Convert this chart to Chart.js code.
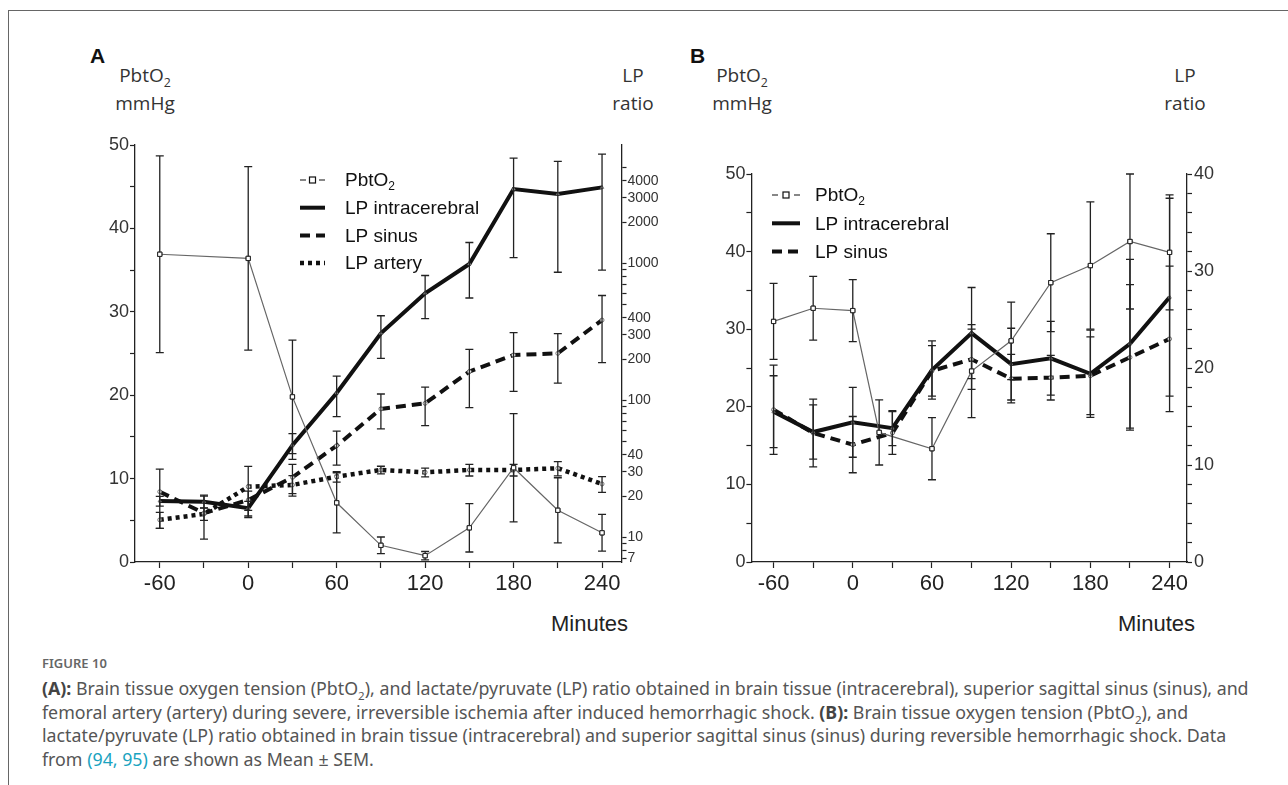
<!DOCTYPE html>
<html>
<head>
<meta charset="utf-8">
<script src="https://cdn.jsdelivr.net/npm/chart.js@4.4.1/dist/chart.umd.min.js"></script>
<style>
   body { margin: 0; width: 1288px; height: 785px; background: #fff; overflow: hidden; position: relative; font-family: "Liberation Sans", Arial, sans-serif; }
   .frame { position: absolute; left: 8px; top: 10px; width: 1290px; height: 790px; border-top: 1px solid #666; border-left: 1px solid #666; }
   .abs { position: absolute; }
   .panel { font: bold 21px "Liberation Sans", Arial, sans-serif; color: #111; }
   .ttl { width: 100px; text-align: center; font: 19px "Open Sans", "Noto Sans", sans-serif; line-height: 28px; color: #333; }
   .ttl sub { font-size: 0.65em; line-height: 0; }
   .minutes { font: 22px "Liberation Sans", Arial, sans-serif; color: #222; }
   .fig { left: 42px; top: 654px; font: 600 13px "Noto Sans", sans-serif; color: #666; }
   .cap { left: 42px; top: 677px; font: 17.8px "Noto Sans", sans-serif; line-height: 23.5px; color: #555; white-space: nowrap; }
   .cap b { color: #444; }
   .cap sub { font-size: 0.65em; line-height: 0; }
   .cap .ref { color: #1aa3c0; }
   canvas { position: absolute; }
</style>
</head>
<body>
<div class="frame"></div>

<div class="abs panel" style="left:90px; top:44px;">A</div>
<div class="abs ttl" style="left:95px; top:61px;">PbtO<sub>2</sub><br>mmHg</div>
<div class="abs ttl" style="left:583px; top:61px;">LP<br>ratio</div>
<canvas id="chartA" width="590" height="470" style="left:80px; top:130px;"></canvas>
<div class="abs minutes" style="left:551px; top:611px;">Minutes</div>

<div class="abs panel" style="left:690px; top:44px;">B</div>
<div class="abs ttl" style="left:692px; top:61px;">PbtO<sub>2</sub><br>mmHg</div>
<div class="abs ttl" style="left:1135px; top:61px;">LP<br>ratio</div>
<canvas id="chartB" width="590" height="470" style="left:680px; top:130px;"></canvas>
<div class="abs minutes" style="left:1118px; top:611px;">Minutes</div>

<div class="abs fig">FIGURE 10</div>
<div class="abs cap">
<b>(A):</b> Brain tissue oxygen tension (PbtO<sub>2</sub>), and lactate/pyruvate (LP) ratio obtained in brain tissue (intracerebral), superior sagittal sinus (sinus), and<br>
femoral artery (artery) during severe, irreversible ischemia after induced hemorrhagic shock. <b>(B):</b> Brain tissue oxygen tension (PbtO<sub>2</sub>), and<br>
lactate/pyruvate (LP) ratio obtained in brain tissue (intracerebral) and superior sagittal sinus (sinus) during reversible hemorrhagic shock. Data<br>
from <span class="ref">(94, 95)</span> are shown as Mean ± SEM.
</div>

<script>
// ---- panel A: irreversible ischemia ----
const pbto2TimesA = [-60, 0, 30, 60, 90, 120, 150, 180, 210, 240];
const pbto2A      = [36.9, 36.4, 19.8, 7.1, 2.0, 0.76, 4.1, 11.3, 6.2, 3.5];
const pbto2SemA   = [11.8, 11.0, 6.8, 3.6, 1.0, 0.5, 2.9, 6.5, 3.9, 2.2];

const lpTimesA      = [-60, -30, 0, 30, 60, 90, 120, 150, 180, 210, 240];
const lpIntraA      = [18.4, 18.2, 16.3, 47, 113, 308, 604, 988, 3480, 3200, 3580];
const lpIntraSemA   = [1.5, 1.8, 2.0, 10, 37, 106, 210, 430, 2380, 2340, 2690];
const lpSinusA      = [21.5, 15.0, 18.7, 27.4, 46.6, 86.5, 95, 162, 214, 220, 385];
const lpSinusSemA   = [9.9, 5.3, 3.0, 6.6, 13, 24.6, 29.7, 73.5, 98, 86.5, 197];
const lpArteryA     = [13.4, 14.8, 23.4, 24.1, 27.7, 31.0, 29.8, 31.0, 31.0, 31.9, 24.5];
const lpArterySemA  = [1.8, 1.5, 9.5, 4.1, 2.4, 2.0, 2.2, 3.0, 3.0, 3.8, 3.2];

// ---- panel B: reversible shock ----
const pbto2TimesB = [-60, -30, 0, 20, 60, 90, 120, 150, 180, 210, 240];
const pbto2B      = [31.0, 32.7, 32.4, 16.7, 14.6, 24.6, 28.5, 36.0, 38.2, 41.3, 39.9];
const pbto2SemB   = [4.9, 4.1, 4.0, 4.2, 4.0, 6.0, 5.0, 6.3, 8.2, 8.7, 7.4];

const lpTimesB     = [-60, -30, 0, 30, 60, 90, 120, 150, 180, 210, 240];
const lpIntraB     = [15.5, 13.4, 14.4, 13.8, 19.8, 23.6, 20.4, 21.0, 19.4, 22.5, 27.3];
const lpIntraSemB  = [3.7, 2.8, 3.6, 1.8, 3.0, 4.7, 3.7, 3.8, 4.5, 8.7, 10.2];
const lpSinusB     = [15.7, 13.3, 12.1, 13.3, 19.7, 20.9, 18.9, 19.0, 19.2, 21.1, 23.0];
const lpSinusSemB  = [4.6, 3.5, 2.9, 2.2, 2.6, 3.1, 2.5, 2.3, 4.0, 7.5, 7.5];

// ---- axes ----
const minuteTicks  = [-60, -30, 0, 30, 60, 90, 120, 150, 180, 210, 240];
const minuteLabels = [-60, 0, 60, 120, 180, 240];
const pbto2Ticks   = [0, 5, 10, 15, 20, 25, 30, 35, 40, 45, 50];
const pbto2Labels  = [0, 10, 20, 30, 40, 50];
const lpLogTicks   = [7, 8, 9, 10, 20, 30, 40, 50, 60, 70, 80, 90, 100, 200, 300, 400, 500, 600, 700, 800, 900, 1000, 2000, 3000, 4000, 5000];
const lpLogLabels  = [7, 10, 20, 30, 40, 100, 200, 300, 400, 1000, 2000, 3000, 4000];
const lpLinTicks   = [0, 2, 4, 6, 8, 10, 12, 14, 16, 18, 20, 22, 24, 26, 28, 30, 32, 34, 36, 38, 40];
const lpLinLabels  = [0, 10, 20, 30, 40];

const pts = (xs, ys) => xs.map((x, i) => ({x: x, y: ys[i]}));
const ink = '#222';
const numFont = size => ({family: '"Liberation Sans", Arial, sans-serif', size: size});

function setTicks(list) {
   return scale => { scale.ticks = list.map(v => ({value: v})); };
}
function showOnly(list) {
   return v => list.includes(v) ? String(v) : '';
}
function axisStyle(tickLen) {
   return {
      grid: {drawOnChartArea: false, drawTicks: true, tickLength: tickLen, tickColor: ink, tickWidth: 1.2},
      border: {display: true, color: ink, width: 1.3},
   };
}

// error bars: dataset.sem holds the half-length of each bar
const errorBars = {
   id: 'errorBars',
   afterDatasetsDraw(chart) {
      const ctx = chart.ctx;
      ctx.save();
      ctx.strokeStyle = ink;
      ctx.lineWidth = 1.3;
      ctx.setLineDash([]);
      chart.data.datasets.forEach((ds, i) => {
         if (!ds.sem) return;
         const ys = chart.scales[ds.yAxisID];
         const xs = chart.scales.x;
         ds.data.forEach((p, j) => {
            const s = ds.sem[j];
            if (!s) return;
            const px = xs.getPixelForValue(p.x);
            const top = ys.getPixelForValue(p.y + s);
            const bot = ys.getPixelForValue(Math.max(p.y - s, ys.min));
            ctx.beginPath();
            ctx.moveTo(px, top); ctx.lineTo(px, bot);
            ctx.moveTo(px - 4, top); ctx.lineTo(px + 4, top);
            ctx.moveTo(px - 4, bot); ctx.lineTo(px + 4, bot);
            ctx.stroke();
         });
      });
      ctx.restore();
      // markers of the PbtO2 series go on top of their bars
      chart.getSortedVisibleDatasetMetas().forEach(meta => {
         if (meta.dataset && chart.data.datasets[meta.index].pointStyle === 'rect') {
            meta.data.forEach(el => el.draw(chart.ctx, chart.chartArea));
         }
      });
   }
};

// legend drawn inside the plot area
function drawRich(ctx, text, x, y, size) {
   const parts = text.split('\u2082');
   ctx.font = `${size}px "Liberation Sans", Arial, sans-serif`;
   ctx.fillText(parts[0], x, y);
   if (parts.length > 1) {
      const w = ctx.measureText(parts[0]).width;
      ctx.font = `${Math.round(size * 0.65)}px "Liberation Sans", Arial, sans-serif`;
      ctx.fillText('2', x + w, y + size * 0.28);
   }
}
const innerLegend = {
   id: 'innerLegend',
   afterDraw(chart, args, opts) {
      const ctx = chart.ctx;
      ctx.save();
      ctx.textBaseline = 'middle';
      ctx.fillStyle = '#111';
      chart.data.datasets.forEach((ds, i) => {
         const y = opts.y + i * opts.row;
         const x0 = opts.x, x1 = opts.x + opts.icon;
         ctx.strokeStyle = '#111';
         if (ds.pointStyle === 'rect') {
            ctx.lineWidth = 1.2;
            ctx.setLineDash([]);
            ctx.beginPath();
            ctx.moveTo(x0, y); ctx.lineTo(x0 + 6, y);
            ctx.moveTo(x1 - 6, y); ctx.lineTo(x1, y);
            ctx.stroke();
            ctx.fillStyle = '#fff';
            ctx.fillRect((x0 + x1) / 2 - 3, y - 3, 6, 6);
            ctx.strokeRect((x0 + x1) / 2 - 3, y - 3, 6, 6);
            ctx.fillStyle = '#111';
         } else {
            ctx.lineWidth = ds.borderWidth;
            ctx.setLineDash(ds.borderDash || []);
            ctx.beginPath();
            ctx.moveTo(x0, y); ctx.lineTo(x1, y);
            ctx.stroke();
         }
         ctx.setLineDash([]);
         drawRich(ctx, ds.label, opts.x + opts.text, y + 1, opts.size);
      });
      ctx.restore();
   }
};

function pbto2Set(xs, ys, sem) {
   return {label: 'PbtO\u2082', data: pts(xs, ys), sem: sem, yAxisID: 'y',
      borderColor: '#666', borderWidth: 1.2, pointStyle: 'rect', pointRadius: 3,
      pointBackgroundColor: '#fff', pointBorderColor: '#222', pointBorderWidth: 1};
}
function lpSet(label, xs, ys, sem, dash, width, marker) {
   return {label: label, data: pts(xs, ys), sem: sem, yAxisID: 'y2',
      borderColor: '#111', borderWidth: width, borderDash: dash, borderCapStyle: 'butt',
      pointStyle: marker, pointRadius: 2, pointBackgroundColor: '#fff', pointBorderColor: '#555', pointBorderWidth: 0.8};
}

function makeChart(id, datasets, cfg) {
   return new Chart(document.getElementById(id), {
      type: 'line',
      data: {datasets: datasets},
      options: {
         responsive: false,
         animation: false,
         devicePixelRatio: 1,
         layout: {padding: {top: cfg.top, left: 0, right: 0, bottom: 0}},
         elements: {line: {tension: 0}},
         scales: {
            x: Object.assign({
               type: 'linear', min: -76.8, max: 253.2,
               afterBuildTicks: setTicks(minuteTicks),
               afterFit: s => { s.height = 38; },
               ticks: {callback: showOnly(minuteLabels), font: numFont(22), color: ink, padding: 3, maxRotation: 0, autoSkip: false},
            }, axisStyle(6)),
            y: Object.assign({
               type: 'linear', position: 'left', min: 0, max: 50,
               afterBuildTicks: setTicks(pbto2Ticks),
               afterFit: s => { s.width = cfg.leftW; },
               ticks: {callback: showOnly(pbto2Labels), font: numFont(18), color: '#333', padding: 1, autoSkip: false},
            }, axisStyle(5)),
            y2: Object.assign(cfg.right, {position: 'right',
               afterFit: s => { s.width = cfg.rightW; }}, axisStyle(5)),
         },
         plugins: {
            legend: {display: false},
            tooltip: {enabled: false},
            innerLegend: cfg.legend,
         }
      },
      plugins: [errorBars, innerLegend]
   });
}

makeChart('chartA', [
   pbto2Set(pbto2TimesA, pbto2A, pbto2SemA),
   lpSet('LP intracerebral', lpTimesA, lpIntraA, lpIntraSemA, [], 4, 'triangle'),
   lpSet('LP sinus', lpTimesA, lpSinusA, lpSinusSemA, [10, 6], 4, 'circle'),
   lpSet('LP artery', lpTimesA, lpArteryA, lpArterySemA, [4, 4], 4.5, 'circle'),
], {
   top: 15, leftW: 55, rightW: 48.5,
   right: {type: 'logarithmic', min: 6.6, max: 7300,
      afterBuildTicks: setTicks(lpLogTicks),
      ticks: {callback: showOnly(lpLogLabels), font: numFont(14), color: '#333', padding: 1, autoSkip: false}},
   legend: {x: 220, y: 50, row: 27.7, icon: 25, text: 45, size: 19},
});

makeChart('chartB', [
   pbto2Set(pbto2TimesB, pbto2B, pbto2SemB),
   lpSet('LP intracerebral', lpTimesB, lpIntraB, lpIntraSemB, [], 4, 'triangle'),
   lpSet('LP sinus', lpTimesB, lpSinusB, lpSinusSemB, [10, 6], 4, 'circle'),
], {
   top: 44, leftW: 71.4, rightW: 83,
   right: {type: 'linear', min: 0, max: 40,
      afterBuildTicks: setTicks(lpLinTicks),
      ticks: {callback: showOnly(lpLinLabels), font: numFont(18), color: '#333', padding: 2, autoSkip: false}},
   legend: {x: 92, y: 65, row: 28.3, icon: 28, text: 43, size: 19},
});
</script>
</body>
</html>
